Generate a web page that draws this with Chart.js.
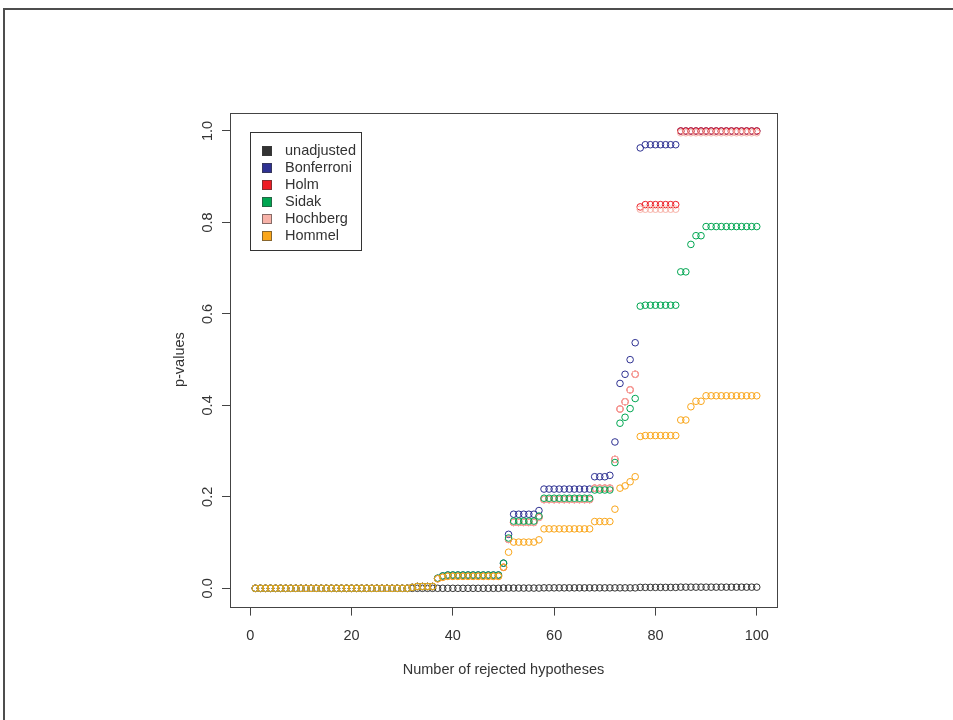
<!DOCTYPE html>
<html><head><meta charset="utf-8">
<script src="https://cdn.jsdelivr.net/npm/chart.js@4.4.0/dist/chart.umd.min.js"></script>
<style>html,body{margin:0;padding:0;background:#fff;}canvas{display:block;}</style>
</head><body>
<canvas id="c" width="953" height="720"></canvas>
<script>
// Rank of the hypothesis (x axis)
const hypotheses = Array.from({length: 100}, (_, i) => i + 1);
const xTicks = [0, 20, 40, 60, 80, 100];
const xTickLabels = ['0', '20', '40', '60', '80', '100'];
const yTicks = [0, 0.2, 0.4, 0.6, 0.8, 1.0];
const yTickLabels = ['0.0', '0.2', '0.4', '0.6', '0.8', '1.0'];
const xTitle = 'Number of rejected hypotheses';
const yTitle = 'p-values';
const methodNames = ['unadjusted', 'Bonferroni', 'Holm', 'Sidak', 'Hochberg', 'Hommel'];
const methodColors = ['#333333', '#2e3192', '#ed1c24', '#00a651', '#f7b2a8', '#faa61a'];

const unadjusted = [
  0,0,0,0,0,0,0,0,0,0,
  0,0,0,0,0,0,0,0,0,0,
  0,0,0,0,0,0,0,0,0,0,
  0,0,0,0,0,0,0,0,0,0,
  0,0,0,0,0,0,0,0,0,0.0005,
  0.0005,0.0005,0.0005,0.0005,0.0005,0.0005,0.0005,0.001,0.001,0.001,
  0.001,0.001,0.001,0.001,0.001,0.001,0.001,0.001,0.001,0.001,
  0.001,0.001,0.001,0.001,0.001,0.001,0.002,0.002,0.002,0.002,
  0.002,0.002,0.002,0.002,0.0025,0.0025,0.0025,0.0025,0.0025,0.0025,
  0.0025,0.0025,0.0025,0.0025,0.0025,0.0025,0.0025,0.0025,0.0025,0.0025
];
const bonferroni = [
  0,0,0,0,0,0,0,0,0,0,
  0,0,0,0,0,0,0,0,0,0,
  0,0,0,0,0,0,0,0,0,0,
  0,0.002,0.004,0.004,0.004,0.004,0.022,0.027,0.029,0.029,
  0.029,0.029,0.029,0.029,0.029,0.029,0.029,0.029,0.029,0.055,
  0.118,0.162,0.162,0.162,0.162,0.162,0.170,0.217,0.217,0.217,
  0.217,0.217,0.217,0.217,0.217,0.217,0.217,0.244,0.244,0.244,
  0.247,0.320,0.448,0.468,0.500,0.537,0.963,0.970,0.970,0.970,
  0.970,0.970,0.970,0.970,1,1,1,1,1,1,
  1,1,1,1,1,1,1,1,1,1
];
const holm = [
  0,0,0,0,0,0,0,0,0,0,
  0,0,0,0,0,0,0,0,0,0,
  0,0,0,0,0,0,0,0,0,0,
  0,0.002,0.004,0.004,0.004,0.004,0.021,0.025,0.027,0.027,
  0.027,0.027,0.027,0.027,0.027,0.027,0.027,0.027,0.027,0.046,
  0.107,0.144,0.144,0.144,0.144,0.144,0.155,0.194,0.194,0.194,
  0.194,0.194,0.194,0.194,0.194,0.194,0.194,0.219,0.219,0.219,
  0.219,0.282,0.392,0.408,0.434,0.468,0.834,0.839,0.839,0.839,
  0.839,0.839,0.839,0.839,1,1,1,1,1,1,
  1,1,1,1,1,1,1,1,1,1
];
const sidak = [
  0,0,0,0,0,0,0,0,0,0,
  0,0,0,0,0,0,0,0,0,0,
  0,0,0,0,0,0,0,0,0,0,
  0,0.002,0.004,0.004,0.004,0.004,0.022,0.027,0.029,0.029,
  0.029,0.029,0.029,0.029,0.029,0.029,0.029,0.029,0.029,0.055,
  0.110,0.147,0.147,0.147,0.147,0.147,0.158,0.197,0.197,0.197,
  0.197,0.197,0.197,0.197,0.197,0.197,0.197,0.215,0.215,0.215,
  0.215,0.275,0.361,0.374,0.393,0.415,0.617,0.619,0.619,0.619,
  0.619,0.619,0.619,0.619,0.692,0.692,0.752,0.771,0.771,0.791,
  0.791,0.791,0.791,0.791,0.791,0.791,0.791,0.791,0.791,0.791
];
const hochberg = [
  0,0,0,0,0,0,0,0,0,0,
  0,0,0,0,0,0,0,0,0,0,
  0,0,0,0,0,0,0,0,0,0,
  0,0.002,0.004,0.004,0.004,0.004,0.021,0.025,0.027,0.027,
  0.027,0.027,0.027,0.027,0.027,0.027,0.027,0.027,0.027,0.046,
  0.107,0.144,0.144,0.144,0.144,0.144,0.155,0.194,0.194,0.194,
  0.194,0.194,0.194,0.194,0.194,0.194,0.194,0.219,0.219,0.219,
  0.219,0.282,0.392,0.408,0.434,0.468,0.829,0.829,0.829,0.829,
  0.829,0.829,0.829,0.829,0.996,0.996,0.996,0.996,0.996,0.996,
  0.996,0.996,0.996,0.996,0.996,0.996,0.996,0.996,0.996,0.996
];
const hommel = [
  0,0,0,0,0,0,0,0,0,0,
  0,0,0,0,0,0,0,0,0,0,
  0,0,0,0,0,0,0,0,0,0,
  0,0.002,0.004,0.004,0.004,0.004,0.021,0.024,0.026,0.026,
  0.026,0.026,0.026,0.026,0.026,0.026,0.026,0.026,0.026,0.046,
  0.079,0.101,0.101,0.101,0.101,0.101,0.106,0.130,0.130,0.130,
  0.130,0.130,0.130,0.130,0.130,0.130,0.130,0.146,0.146,0.146,
  0.146,0.173,0.219,0.224,0.233,0.244,0.332,0.334,0.334,0.334,
  0.334,0.334,0.334,0.334,0.368,0.368,0.397,0.409,0.409,0.421,
  0.421,0.421,0.421,0.421,0.421,0.421,0.421,0.421,0.421,0.421
];
const seriesValues = [unadjusted, bonferroni, holm, sidak, hochberg, hommel];
// drawing weight (higher = drawn earlier, underneath)
const drawWeight = [6, 5, 4, 2, 3, 1];

const FONT = '14.5px "Liberation Sans", Arial, Helvetica, sans-serif';
const INK = '#333333';

const datasets = seriesValues.map((vals, k) => ({
  label: methodNames[k],
  data: vals.map((v, i) => ({x: hypotheses[i], y: v})),
  borderColor: methodColors[k],
  backgroundColor: 'rgba(0,0,0,0)',
  pointStyle: 'circle',
  pointRadius: 3.3,
  pointHoverRadius: 3.3,
  pointBorderWidth: 1,
  showLine: false,
  order: drawWeight[k]
}));

const decor = {
  id: 'decor',
  beforeDraw(chart) {
    const ctx = chart.ctx;
    ctx.save();
    ctx.fillStyle = '#ffffff';
    ctx.fillRect(0, 0, chart.width, chart.height);
    ctx.fillStyle = '#4d4d4d';
    ctx.fillRect(3, 8, chart.width - 3, 2);
    ctx.fillRect(3, 8, 2, chart.height - 8);
    ctx.restore();
  },
  afterDraw(chart) {
    const ctx = chart.ctx;
    const a = chart.chartArea;
    const xs = chart.scales.x, ys = chart.scales.y;
    ctx.save();
    // plot box
    ctx.strokeStyle = '#444444';
    ctx.lineWidth = 1;
    ctx.strokeRect(Math.round(a.left) + 0.5, Math.round(a.top) + 0.5,
                   Math.round(a.right - a.left), Math.round(a.bottom - a.top));
    ctx.fillStyle = INK;
    ctx.font = FONT;
    ctx.textAlign = 'center';
    ctx.textBaseline = 'middle';
    // x tick labels
    xs.ticks.forEach((t, i) => {
      ctx.fillText(xTickLabels[i], xs.getPixelForValue(t.value), a.bottom + 29);
    });
    // y tick labels (rotated)
    ys.ticks.forEach((t, i) => {
      ctx.save();
      ctx.translate(a.left - 22, ys.getPixelForValue(t.value));
      ctx.rotate(-Math.PI / 2);
      ctx.fillText(yTickLabels[i], 0, 0);
      ctx.restore();
    });
    // axis titles
    ctx.fillText(xTitle, (a.left + a.right) / 2, a.bottom + 63);
    ctx.save();
    ctx.translate(a.left - 50, (a.top + a.bottom) / 2);
    ctx.rotate(-Math.PI / 2);
    ctx.fillText(yTitle, 0, 0);
    ctx.restore();
    // legend
    const lx = Math.round(a.left + 20) + 0.5, ly = Math.round(a.top + 19) + 0.5;
    const lw = 111, lh = 118;
    ctx.strokeStyle = '#333333';
    ctx.lineWidth = 1;
    ctx.strokeRect(lx, ly, lw, lh);
    ctx.textAlign = 'left';
    methodNames.forEach((name, k) => {
      const cy = ly + 18.5 + k * 17;
      ctx.fillStyle = methodColors[k];
      ctx.fillRect(Math.round(lx + 11), Math.round(cy - 5), 10, 10);
      ctx.strokeStyle = 'rgba(60,60,60,0.6)';
      ctx.strokeRect(Math.round(lx + 11) + 0.5, Math.round(cy - 5) + 0.5, 9, 9);
      ctx.fillStyle = INK;
      ctx.fillText(name, lx + 34.5, cy);
    });
    ctx.restore();
  }
};

new Chart(document.getElementById('c'), {
  type: 'scatter',
  data: {datasets},
  options: {
    responsive: false,
    animation: false,
    devicePixelRatio: 1,
    layout: {padding: {left: 190, right: 176, top: 112.7, bottom: 73.4}},
    plugins: {legend: {display: false}, tooltip: {enabled: false}, title: {display: false}},
    scales: {
      x: {
        type: 'linear', min: -4, max: 104,
        afterFit(s) { s.height = 40; },
        afterBuildTicks(s) { s.ticks = xTicks.map(v => ({value: v})); },
        ticks: {display: false},
        grid: {drawOnChartArea: false, drawTicks: true, tickLength: 9, color: '#444444', lineWidth: 1},
        border: {display: false}
      },
      y: {
        type: 'linear', min: -0.04, max: 1.04,
        afterFit(s) { s.width = 40; },
        afterBuildTicks(s) { s.ticks = yTicks.map(v => ({value: v})); },
        ticks: {display: false},
        grid: {drawOnChartArea: false, drawTicks: true, tickLength: 8, color: '#444444', lineWidth: 1},
        border: {display: false}
      }
    }
  },
  plugins: [decor]
});
</script>
</body></html>
